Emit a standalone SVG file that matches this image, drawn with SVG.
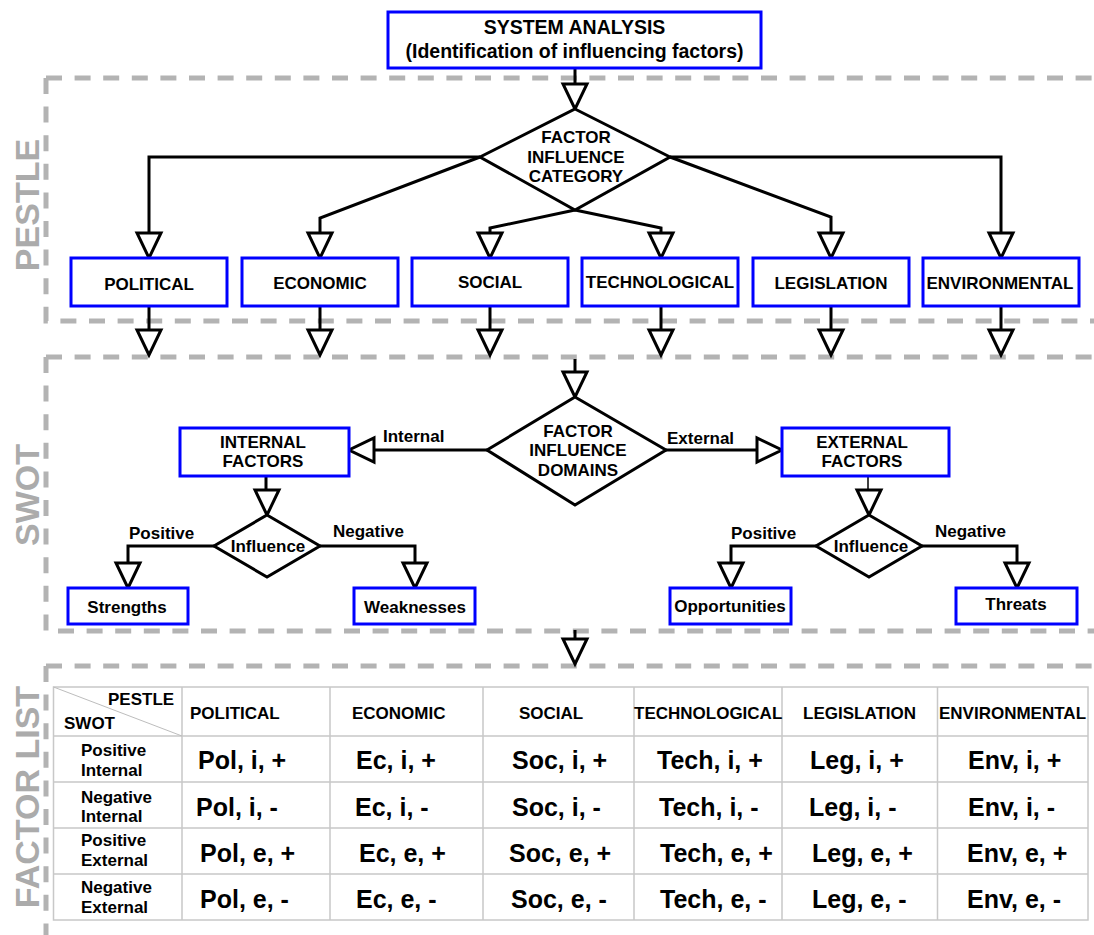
<svg xmlns="http://www.w3.org/2000/svg" width="1094" height="935" viewBox="0 0 1094 935">
<defs>
<style>
.box{fill:#fff;stroke:#0000ff;stroke-width:3}
.dia{fill:#fff;stroke:#000;stroke-width:3;stroke-linejoin:miter}
.wire{fill:none;stroke:#000;stroke-width:3}
.thin{stroke-width:1.5}
.head{fill:#fff;stroke:#000;stroke-width:3;stroke-linejoin:miter}
.frame{fill:none;stroke:#b3b3b3;stroke-width:5;stroke-dasharray:16 12.6}
.t{font-family:"Liberation Sans",Arial,sans-serif;font-weight:bold;fill:#000}
.lbl{font-size:17px}
.big{font-size:19.5px}
.val{font-size:25px}
.c{text-anchor:middle}
.sec{font-family:"Liberation Sans",Arial,sans-serif;font-weight:bold;font-size:34px;fill:#ababab;text-anchor:middle}
.grid{stroke:#c8c8c8;stroke-width:1.5;fill:none}
.diag{stroke:#bdbdbd;stroke-width:1;fill:none}
</style>
<!-- open arrowhead, tip at the origin, pointing down -->
<polygon id="hd" points="-12,-25 12,-25 0,0"/>
</defs>
<rect width="1094" height="935" fill="#fff"/>

<!-- section frames -->
<g id="frames">
<path class="frame" d="M46,78 H1110"/>
<path class="frame" d="M46,78 V321 H1110"/>
<path class="frame" d="M46,357 H1110"/>
<path class="frame" d="M46,357 V631 H1110"/>
<path class="frame" d="M46,666 H1110"/>
<path class="frame" d="M46,666 V945"/>
<text class="sec" transform="translate(39,205) rotate(-90)">PESTLE</text>
<text class="sec" transform="translate(39,495) rotate(-90)">SWOT</text>
<text class="sec" transform="translate(39,797) rotate(-90)">FACTOR LIST</text>
</g>

<!-- connectors -->
<g id="connectors">
<path class="wire" d="M575,68 V84"/>
<use href="#hd" class="head" x="575" y="109"/>

<path class="wire" d="M480,157 H149 V233"/>
<path class="wire" d="M480,157 L320,218 V233"/>
<path class="wire" d="M575,210 L490,228 V233"/>
<path class="wire" d="M575,210 L661,228 V233"/>
<path class="wire" d="M670,157 L831,217 V233"/>
<path class="wire" d="M670,157 H1001 V233"/>
<use href="#hd" class="head" x="149" y="258"/>
<use href="#hd" class="head" x="320" y="258"/>
<use href="#hd" class="head" x="490" y="258"/>
<use href="#hd" class="head" x="661" y="258"/>
<use href="#hd" class="head" x="831" y="258"/>
<use href="#hd" class="head" x="1001" y="258"/>

<path class="wire" d="M149,306 V330 M320,306 V330 M490,306 V330 M661,306 V330 M831,306 V330 M1001,306 V330"/>
<use href="#hd" class="head" x="149" y="355"/>
<use href="#hd" class="head" x="320" y="355"/>
<use href="#hd" class="head" x="490" y="355"/>
<use href="#hd" class="head" x="661" y="355"/>
<use href="#hd" class="head" x="831" y="355"/>
<use href="#hd" class="head" x="1001" y="355"/>

<path class="wire" d="M575,359 V373"/>
<use href="#hd" class="head" x="575" y="397"/>

<path class="wire" d="M487,450 H374"/>
<use href="#hd" class="head" transform="translate(349,450) rotate(90)"/>
<path class="wire" d="M666,450 H757"/>
<use href="#hd" class="head" transform="translate(782,450) rotate(-90)"/>

<path class="wire" d="M266,476 V490"/>
<use href="#hd" class="head" x="267" y="515"/>
<path class="wire" d="M214,546 H128 V563"/>
<use href="#hd" class="head" x="128" y="588"/>
<path class="wire" d="M320,546 H415 V563"/>
<use href="#hd" class="head" x="415" y="588"/>

<path class="wire thin" d="M868,476 V490"/>
<use href="#hd" class="head" x="869" y="515"/>
<path class="wire" d="M816,546 H731 V563"/>
<use href="#hd" class="head" x="731" y="588"/>
<path class="wire" d="M922,546 H1017 V563"/>
<use href="#hd" class="head" x="1017" y="588"/>

<path class="wire" d="M575,630 V640"/>
<use href="#hd" class="head" x="575" y="664"/>
</g>

<!-- top node -->
<g id="system-analysis">
<rect class="box" x="388" y="12" width="373" height="56"/>
<text class="t big c" x="574.5" y="34">SYSTEM ANALYSIS</text>
<text class="t big c" x="574.5" y="58">(Identification of influencing factors)</text>
</g>

<!-- PESTLE -->
<g id="category-decision">
<polygon class="dia" points="575,109 670,157 575,210 480,157"/>
<text class="t lbl c" x="576" y="143">FACTOR</text>
<text class="t lbl c" x="576" y="163">INFLUENCE</text>
<text class="t lbl c" x="576" y="182">CATEGORY</text>
</g>
<g id="political"><rect class="box" x="71" y="258" width="156" height="48"/><text class="t lbl c" x="149" y="290">POLITICAL</text></g>
<g id="economic"><rect class="box" x="242" y="258" width="156" height="48"/><text class="t lbl c" x="320" y="289">ECONOMIC</text></g>
<g id="social"><rect class="box" x="412" y="258" width="156" height="48"/><text class="t lbl c" x="490" y="288">SOCIAL</text></g>
<g id="technological"><rect class="box" x="582" y="258" width="156" height="48"/><text class="t lbl c" x="660" y="288">TECHNOLOGICAL</text></g>
<g id="legislation"><rect class="box" x="753" y="258" width="156" height="48"/><text class="t lbl c" x="831" y="289">LEGISLATION</text></g>
<g id="environmental"><rect class="box" x="923" y="258" width="156" height="48"/><text class="t lbl c" x="1000" y="289">ENVIRONMENTAL</text></g>

<!-- SWOT -->
<g id="domain-decision">
<polygon class="dia" points="575,397 666,450 575,505 487,450"/>
<text class="t lbl c" x="578" y="437">FACTOR</text>
<text class="t lbl c" x="578" y="456">INFLUENCE</text>
<text class="t lbl c" x="578" y="476">DOMAINS</text>
</g>
<text class="t lbl" x="383" y="442">Internal</text>
<text class="t lbl" x="667" y="444">External</text>

<g id="internal-factors">
<rect class="box" x="180" y="428" width="169" height="48"/>
<text class="t lbl c" x="263" y="448">INTERNAL</text>
<text class="t lbl c" x="263" y="467">FACTORS</text>
</g>
<g id="external-factors">
<rect class="box" x="782" y="428" width="167" height="48"/>
<text class="t lbl c" x="862" y="448">EXTERNAL</text>
<text class="t lbl c" x="862" y="467">FACTORS</text>
</g>

<g id="internal-influence">
<polygon class="dia" points="267,515 320,546 267,577 214,546"/>
<text class="t lbl c" x="268" y="552">Influence</text>
</g>
<text class="t lbl" x="129" y="539">Positive</text>
<text class="t lbl" x="333" y="537">Negative</text>

<g id="external-influence">
<polygon class="dia" points="869,515 922,546 869,577 816,546"/>
<text class="t lbl c" x="871" y="552">Influence</text>
</g>
<text class="t lbl" x="731" y="539">Positive</text>
<text class="t lbl" x="935" y="537">Negative</text>

<g id="strengths"><rect class="box" x="68" y="588" width="120" height="36"/><text class="t lbl c" x="127" y="613">Strengths</text></g>
<g id="weaknesses"><rect class="box" x="354" y="588" width="121" height="36"/><text class="t lbl c" x="415" y="613">Weaknesses</text></g>
<g id="opportunities"><rect class="box" x="670" y="588" width="121" height="36"/><text class="t lbl c" x="730" y="612">Opportunities</text></g>
<g id="threats"><rect class="box" x="956" y="588" width="121" height="36"/><text class="t lbl c" x="1016" y="610">Threats</text></g>

<!-- factor list table -->
<g id="factor-table">
<rect class="grid" x="53.5" y="687" width="1034.5" height="233"/>
<path class="grid" d="M182,687 V920 M330,687 V920 M483,687 V920 M634,687 V920 M782,687 V920 M937.5,687 V920"/>
<path class="grid" d="M53.5,736 H1088 M53.5,782 H1088 M53.5,828 H1088 M53.5,874 H1088"/>
<path class="diag" d="M53.5,687 L182,736"/>

<text class="t lbl" x="108" y="705">PESTLE</text>
<text class="t lbl" x="64" y="729">SWOT</text>

<text class="t lbl" x="190" y="719">POLITICAL</text>
<text class="t lbl" x="352" y="719">ECONOMIC</text>
<text class="t lbl" x="519" y="719">SOCIAL</text>
<text class="t lbl" x="634" y="719">TECHNOLOGICAL</text>
<text class="t lbl" x="803" y="719">LEGISLATION</text>
<text class="t lbl" x="939" y="719">ENVIRONMENTAL</text>

<text class="t lbl" x="81" y="756">Positive</text>
<text class="t lbl" x="81" y="776">Internal</text>
<text class="t lbl" x="81" y="803">Negative</text>
<text class="t lbl" x="81" y="822">Internal</text>
<text class="t lbl" x="81" y="846">Positive</text>
<text class="t lbl" x="81" y="866">External</text>
<text class="t lbl" x="81" y="893">Negative</text>
<text class="t lbl" x="81" y="913">External</text>

<text class="t val" x="198" y="769">Pol, i, +</text>
<text class="t val" x="356" y="769">Ec, i, +</text>
<text class="t val" x="512" y="769">Soc, i, +</text>
<text class="t val" x="657" y="769">Tech, i, +</text>
<text class="t val" x="810" y="769">Leg, i, +</text>
<text class="t val" x="968" y="769">Env, i, +</text>

<text class="t val" x="196" y="816">Pol, i, -</text>
<text class="t val" x="355" y="816">Ec, i, -</text>
<text class="t val" x="512" y="816">Soc, i, -</text>
<text class="t val" x="659" y="816">Tech, i, -</text>
<text class="t val" x="809" y="816">Leg, i, -</text>
<text class="t val" x="968" y="816">Env, i, -</text>

<text class="t val" x="200" y="862">Pol, e, +</text>
<text class="t val" x="359" y="862">Ec, e, +</text>
<text class="t val" x="509" y="862">Soc, e, +</text>
<text class="t val" x="660" y="862">Tech, e, +</text>
<text class="t val" x="812" y="862">Leg, e, +</text>
<text class="t val" x="967" y="862">Env, e, +</text>

<text class="t val" x="200" y="908">Pol, e, -</text>
<text class="t val" x="356" y="908">Ec, e, -</text>
<text class="t val" x="511" y="908">Soc, e, -</text>
<text class="t val" x="660" y="908">Tech, e, -</text>
<text class="t val" x="812" y="908">Leg, e, -</text>
<text class="t val" x="967" y="908">Env, e, -</text>
</g>
</svg>
